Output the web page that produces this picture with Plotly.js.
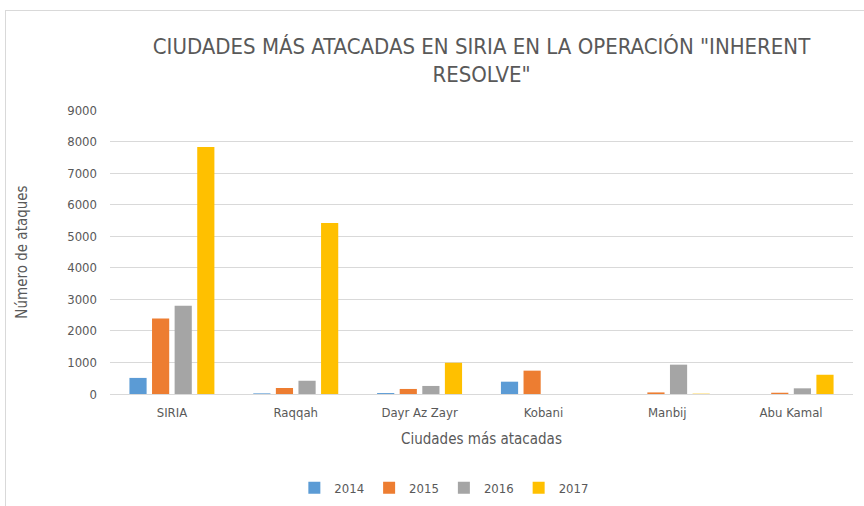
<!DOCTYPE html>
<html>
<head>
<meta charset="utf-8">
<script src="https://cdn.plot.ly/plotly-3.0.1.min.js"></script>
<style>
  html, body { margin: 0; padding: 0; background: #fff; overflow: hidden; }
  #frame { position: absolute; left: 5px; top: 10px; width: 900px; height: 600px; border: 1px solid #d9d9d9; box-sizing: border-box; pointer-events: none; }
  #chart { position: absolute; left: 0; top: 0; width: 864px; height: 506px; }
</style>
</head>
<body>
<div id="chart"></div>
<div id="frame"></div>
<script>
const categories = ["SIRIA", "Raqqah", "Dayr Az Zayr", "Kobani", "Manbij", "Abu Kamal"];
const years = ["2014", "2015", "2016", "2017"];
const v2014 = [510, 20, 30, 390, 0, 0];
const v2015 = [2390, 190, 160, 740, 50, 40];
const v2016 = [2800, 420, 255, 0, 930, 180];
const v2017 = [7830, 5420, 990, 0, 10, 610];
const yTicks = [0, 1000, 2000, 3000, 4000, 5000, 6000, 7000, 8000, 9000];
const colors = ["#5B9BD5", "#ED7D31", "#A5A5A5", "#FFC000"];
const series = [v2014, v2015, v2016, v2017];

const fontFam = "'DejaVu Sans Condensed', 'Open Sans', sans-serif";

const traces = series.map((vals, i) => ({
  type: "bar",
  name: years[i],
  x: categories,
  y: vals,
  marker: { color: colors[i] },
  hoverinfo: "x+y+name"
}));

const layout = {
  width: 864,
  height: 506,
  paper_bgcolor: "rgba(0,0,0,0)",
  plot_bgcolor: "#ffffff",
  margin: { l: 110, r: 11, t: 110, b: 112, autoexpand: false },
  barmode: "group",
  bargap: 0.27,
  bargroupgap: 0.24,
  font: { family: fontFam, color: "#595959", size: 13 },
  title: {
    text: "CIUDADES MÁS ATACADAS EN SIRIA EN LA OPERACIÓN \"INHERENT<br>RESOLVE\"",
    font: { family: fontFam, size: 22, color: "#595959" },
    x: 0.5, xref: "paper", xanchor: "center",
    y: 0.894, yref: "container", yanchor: "middle"
  },
  xaxis: {
    type: "category",
    automargin: false,
    showgrid: false,
    showline: true,
    linecolor: "#d9d9d9",
    linewidth: 1,
    ticks: "",
    ticklabelstandoff: 6,
    tickfont: { size: 13, color: "#595959" },
    title: { text: "Ciudades más atacadas", font: { size: 15, color: "#595959" }, standoff: 14 }
  },
  yaxis: {
    range: [0, 9000],
    automargin: false,
    tickvals: yTicks,
    ticktext: yTicks.map(String),
    showgrid: true,
    gridcolor: "#d9d9d9",
    gridwidth: 1,
    zeroline: false,
    showline: false,
    ticks: "",
    ticklabelstandoff: 12,
    tickfont: { size: 13, color: "#595959" },
    title: { text: "Número de ataques", font: { size: 15, color: "#595959" }, standoff: 35 }
  },
  showlegend: true,
  legend: {
    orientation: "h",
    x: 0.45, xanchor: "center",
    y: -0.33, yanchor: "middle",
    font: { size: 13, color: "#595959" },
    itemwidth: 30,
    traceorder: "normal"
  }
};

Plotly.newPlot("chart", traces, layout, { displayModeBar: false, staticPlot: true });
</script>
</body>
</html>
